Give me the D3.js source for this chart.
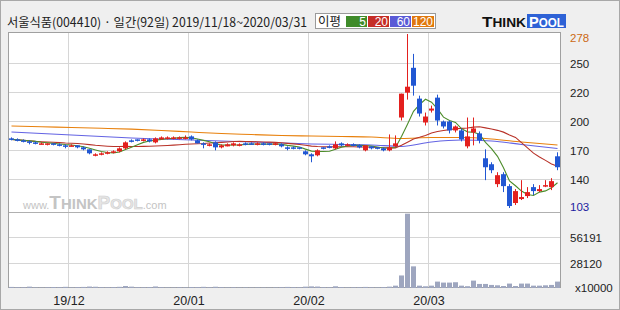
<!DOCTYPE html>
<html>
<head>
<meta charset="utf-8">
<script src="https://cdn.jsdelivr.net/npm/d3@7"></script>
<style>
  body { margin: 0; background: #fff; }
  svg text { font-family: "Liberation Sans", Arial, sans-serif; }
  .kr { font-family: "Noto Sans CJK KR", "Liberation Sans", sans-serif; }
</style>
</head>
<body>
<svg id="chart" width="620" height="310"></svg>
<script>
// 서울식품 일간 시세 2019/11/18 ~ 2020/03/31 (92 거래일)
var monthLabels = ["19/12", "20/01", "20/02", "20/03"];
var monthStartIdx = [10, 30, 50, 70];

var open  = [173,172,171,170,169,167,167,168,167,166, 165,166,164,162,156,157,158,159,160,163,
             171,172,171,172,169,172,173,173,173,173, 175,171,168,166,169,164,165,166,166,168,
             168,167,168,168,167,167,164,164,164,160, 157,156,164,165,163,168,166,167,166,161,
             165,164,163,161,165,194,219,244,213,189, 201,214,190,190,181,181,165,179,178,153,
             147,127,137,125,108,112,115,124,120,125, 124,155];
var high  = [174,173,172,171,170,169,168,168,168,167, 167,166,165,162,158,159,160,161,164,170,
             172,172,173,173,174,175,175,175,175,176, 176,172,169,168,170,167,168,169,168,169,
             169,169,169,168,169,168,165,165,164,161, 158,162,164,166,170,169,168,168,167,166,
             165,164,164,177,176,218,278,258,216,199, 206,217,191,191,186,183,194,194,180,162,
             149,139,139,127,122,131,124,127,126,131, 133,159];
var low   = [171,170,169,167,167,167,166,166,165,163, 165,163,161,157,155,156,157,158,159,162,
             169,170,170,169,168,172,172,172,172,172, 171,168,163,165,161,163,165,165,165,166,
             167,166,166,166,166,164,161,162,162,156, 149,155,162,163,162,165,165,165,163,160,
             162,162,160,160,164,191,212,216,195,186, 199,186,183,178,179,170,163,166,168,131,
             138,124,119,103,106,111,113,116,119,124, 121,141];
var close = [172,171,170,169,168,168,168,167,166,165, 166,164,162,158,157,158,159,160,163,169,
             170,171,172,170,173,174,174,174,174,174, 172,168,167,167,164,166,167,168,167,167,
             167,168,167,167,168,165,163,163,163,157, 155,161,163,164,167,166,167,166,164,166,
             163,163,161,164,168,218,225,226,198,195, 203,191,185,181,185,172,175,183,171,144,
             141,136,125,105,120,114,119,120,122,126, 130,144];
var volume = [1200,900,800,1500,700,600,800,1100,900,1300, 700,1000,1200,1600,1400,900,800,1000,1300,2200,
              1500,900,800,1000,1700,900,700,600,800,700, 1100,1000,1300,800,1400,900,700,800,600,700,
              600,700,600,500,700,900,1200,900,800,1500, 1800,1600,900,800,1900,1000,700,800,900,1200,
              800,700,1000,1500,2600,13900,82400,24000,2600,1900, 2600,7100,6000,6000,6400,2600,2000,8200,4500,4500,
              3400,3000,2200,4900,2200,4900,4900,2600,2600,3000, 3400,7100];

// 60일, 120일 이동평균
var maLongIdx = [0,5,10,15,20,25,30,35,40,45,50,55,60,65,70,75,80,85,91];
var ma60  = [179.4,177.9,176.4,174.9,173.4,172.4,171.4,170.4,169.4,168.4,167.4,166.9,166.4,164.9,169.4,171.4,170.4,166.9,162.8];
var ma120 = [185.5,184.7,184.0,183.2,182.3,181.0,179.4,177.9,176.9,175.9,175.4,174.9,174.4,172.9,173.9,173.9,172.4,169.4,166.4];

var priceTickLabels = ["278", "250", "220", "200", "170", "140", "103"];
var volTickLabels = ["56191", "28120"];
var priceMin = 103, priceMax = 278, volMax = 84287;

var svg = d3.select("#chart");

// background and frame
svg.append("rect").attr("x", 0.5).attr("y", 0.5).attr("width", 619).attr("height", 309)
  .attr("fill", "#efefef").attr("stroke", "#a8a8a8");
svg.append("rect").attr("x", 8.5).attr("y", 32.5).attr("width", 552).attr("height", 255)
  .attr("fill", "#fff").attr("stroke", "#a0a0a0");

var x = d3.scaleBand().domain(d3.range(close.length)).range([8, 560]);
var yP = d3.scaleLinear().domain([priceMin, priceMax]).range([208, 34]);
var yV = d3.scaleLinear().domain([0, volMax]).range([288, 212]);

// grid lines
var grid = svg.append("g").attr("stroke", "#d6d6d6").attr("stroke-width", 1);
var priceGrid = d3.range(1, 6).map(function(k) { return priceMin + k * (priceMax - priceMin) / 6; });
grid.selectAll(".pg").data(priceGrid).enter().append("line")
  .attr("x1", 9).attr("x2", 560)
  .attr("y1", function(d) { return Math.round(yP(d)) + 0.5; })
  .attr("y2", function(d) { return Math.round(yP(d)) + 0.5; });
var volGrid = [volMax * 2 / 3, volMax / 3];
grid.selectAll(".vg").data(volGrid).enter().append("line")
  .attr("x1", 9).attr("x2", 560)
  .attr("y1", function(d) { return Math.round(yV(d)) + 0.5; })
  .attr("y2", function(d) { return Math.round(yV(d)) + 0.5; });
grid.selectAll(".xg").data(monthStartIdx).enter().append("line")
  .attr("x1", function(d) { return x(d) + 0.5; }).attr("x2", function(d) { return x(d) + 0.5; })
  .attr("y1", 33).attr("y2", 287);
// separator between price and volume
svg.append("line").attr("x1", 9).attr("x2", 560).attr("y1", 212.5).attr("y2", 212.5)
  .attr("stroke", "#b0b0b0");

// watermark
var wm = svg.append("text").attr("x", 23).attr("y", 209).attr("fill", "#c4c4c4").attr("font-weight", "bold");
wm.append("tspan").attr("font-size", 11).attr("font-weight", "normal").text("www.");
wm.append("tspan").attr("font-size", 19).text("T");
wm.append("tspan").attr("font-size", 15).text("HINK");
wm.append("tspan").attr("font-size", 19).attr("fill", "#e6e6e6").attr("stroke", "#cfcfcf").attr("stroke-width", 0.6).text("P");
wm.append("tspan").attr("font-size", 15).attr("fill", "#e6e6e6").attr("stroke", "#cfcfcf").attr("stroke-width", 0.6).text("OOL");
wm.append("tspan").attr("font-size", 11).attr("font-weight", "normal").text(".com");

// volume bars
svg.append("g").selectAll("rect").data(volume).enter().append("rect")
  .attr("x", function(d, i) { return x(i) + 1; })
  .attr("width", 5)
  .attr("y", function(d) { return yV(d); })
  .attr("height", function(d) { return 288 - yV(d); })
  .attr("fill", "#9ea6bf");

// moving averages
function rolling(n) {
  return close.map(function(c, i) {
    var s = close.slice(Math.max(0, i - n + 1), i + 1);
    return d3.mean(s);
  });
}
var ma5 = rolling(5), ma20 = rolling(20);

var lineIdx = d3.line()
  .x(function(d, i) { return x(i) + 3.5; })
  .y(function(d) { return yP(d); });
var lineLong = d3.line()
  .x(function(d, i) { return x(maLongIdx[i]) + 3.5; })
  .y(function(d) { return yP(d); })
  .curve(d3.curveMonotoneX);

svg.append("path").attr("d", lineLong(ma120)).attr("fill", "none").attr("stroke", "#e8800c").attr("stroke-width", 1.1);
svg.append("path").attr("d", lineLong(ma60)).attr("fill", "none").attr("stroke", "#6363e3").attr("stroke-width", 1.1);
svg.append("path").attr("d", lineIdx(ma20)).attr("fill", "none").attr("stroke", "#b83228").attr("stroke-width", 1.1);
svg.append("path").attr("d", lineIdx(ma5)).attr("fill", "none").attr("stroke", "#4c8c2a").attr("stroke-width", 1.1);

// candles
var up = "#e3201e", down = "#2157d3";
var candles = svg.append("g").selectAll("g").data(close).enter().append("g");
candles.append("line")
  .attr("x1", function(d, i) { return x(i) + 3.5; })
  .attr("x2", function(d, i) { return x(i) + 3.5; })
  .attr("y1", function(d, i) { return yP(high[i]); })
  .attr("y2", function(d, i) { return yP(low[i]); })
  .attr("stroke", function(d, i) { return close[i] >= open[i] ? up : down; });
candles.append("rect")
  .attr("x", function(d, i) { return x(i) + 1; })
  .attr("width", 5)
  .attr("y", function(d, i) { return yP(Math.max(open[i], close[i])); })
  .attr("height", function(d, i) { return Math.max(1.5, Math.abs(yP(open[i]) - yP(close[i]))); })
  .attr("fill", function(d, i) { return close[i] >= open[i] ? up : down; });

// right axis labels
var priceLabelY = [38, 64, 93, 122, 151, 180, 207];
svg.append("g").selectAll("text").data(priceTickLabels).enter().append("text")
  .attr("x", 570).attr("y", function(d, i) { return priceLabelY[i] + 4; })
  .attr("font-size", 11.5)
  .attr("fill", function(d, i) { return i === 0 ? "#cc6a14" : (i === priceTickLabels.length - 1 ? "#1c1ca0" : "#222"); })
  .text(function(d) { return d; });
svg.append("g").selectAll("text").data(volTickLabels).enter().append("text")
  .attr("x", 570).attr("y", function(d, i) { return Math.round(yV(volGrid[i])) + 5; })
  .attr("font-size", 11.5).attr("fill", "#222")
  .text(function(d) { return d; });
svg.append("text").attr("x", 575).attr("y", 292).attr("font-size", 11.5).attr("fill", "#222").text("x10000");

// bottom month labels
svg.append("g").selectAll("text").data(monthLabels).enter().append("text")
  .attr("x", function(d, i) { return x(monthStartIdx[i]) + 1; })
  .attr("y", 305).attr("text-anchor", "middle").attr("font-size", 12.5).attr("fill", "#222")
  .text(function(d) { return d; });

// title
svg.append("text").attr("class", "kr").attr("x", 7).attr("y", 27).attr("font-size", 12.5).attr("fill", "#222")
  .attr("textLength", 300).attr("lengthAdjust", "spacingAndGlyphs")
  .text("서울식품(004410) · 일간(92일) 2019/11/18~2020/03/31");

// legend
var maNames = ["5", "20", "60", "120"];
var maColors = ["#3f8b2a", "#c52d26", "#5a5ad6", "#e0780e"];
svg.append("rect").attr("x", 315.5).attr("y", 13.5).attr("width", 120).attr("height", 15)
  .attr("fill", "#fff").attr("stroke", "#9a9a9a");
svg.append("text").attr("class", "kr").attr("x", 318).attr("y", 26).attr("font-size", 12.5).attr("fill", "#222").text("이평");
var legX = [346, 368, 390, 412];
var legW = [21, 21, 21, 22];
svg.append("g").selectAll("rect").data(maNames).enter().append("rect")
  .attr("x", function(d, i) { return legX[i]; }).attr("y", 16)
  .attr("width", function(d, i) { return legW[i]; }).attr("height", 11)
  .attr("fill", function(d, i) { return maColors[i]; });
svg.append("g").selectAll("text").data(maNames).enter().append("text")
  .attr("x", function(d, i) { return legX[i] + legW[i] - 1; }).attr("y", 26)
  .attr("text-anchor", "end").attr("font-size", 12).attr("fill", "#fff")
  .text(function(d) { return d; });

// ThinkPool logo
var logo = svg.append("g");
logo.append("rect").attr("x", 527).attr("y", 14).attr("width", 39).attr("height", 14).attr("fill", "#2e62d6");
var lt = logo.append("text").attr("x", 482).attr("y", 27).attr("font-weight", "bold")
  .attr("textLength", 44).attr("lengthAdjust", "spacingAndGlyphs");
lt.append("tspan").attr("font-size", 15).attr("fill", "#111").text("T");
lt.append("tspan").attr("font-size", 12).attr("fill", "#111").text("HINK");
var lp = logo.append("text").attr("x", 529).attr("y", 27).attr("font-weight", "bold")
  .attr("textLength", 35).attr("lengthAdjust", "spacingAndGlyphs");
lp.append("tspan").attr("font-size", 15).attr("fill", "#fff").text("P");
lp.append("tspan").attr("font-size", 12).attr("fill", "#fff").text("OOL");
</script>
</body>
</html>
